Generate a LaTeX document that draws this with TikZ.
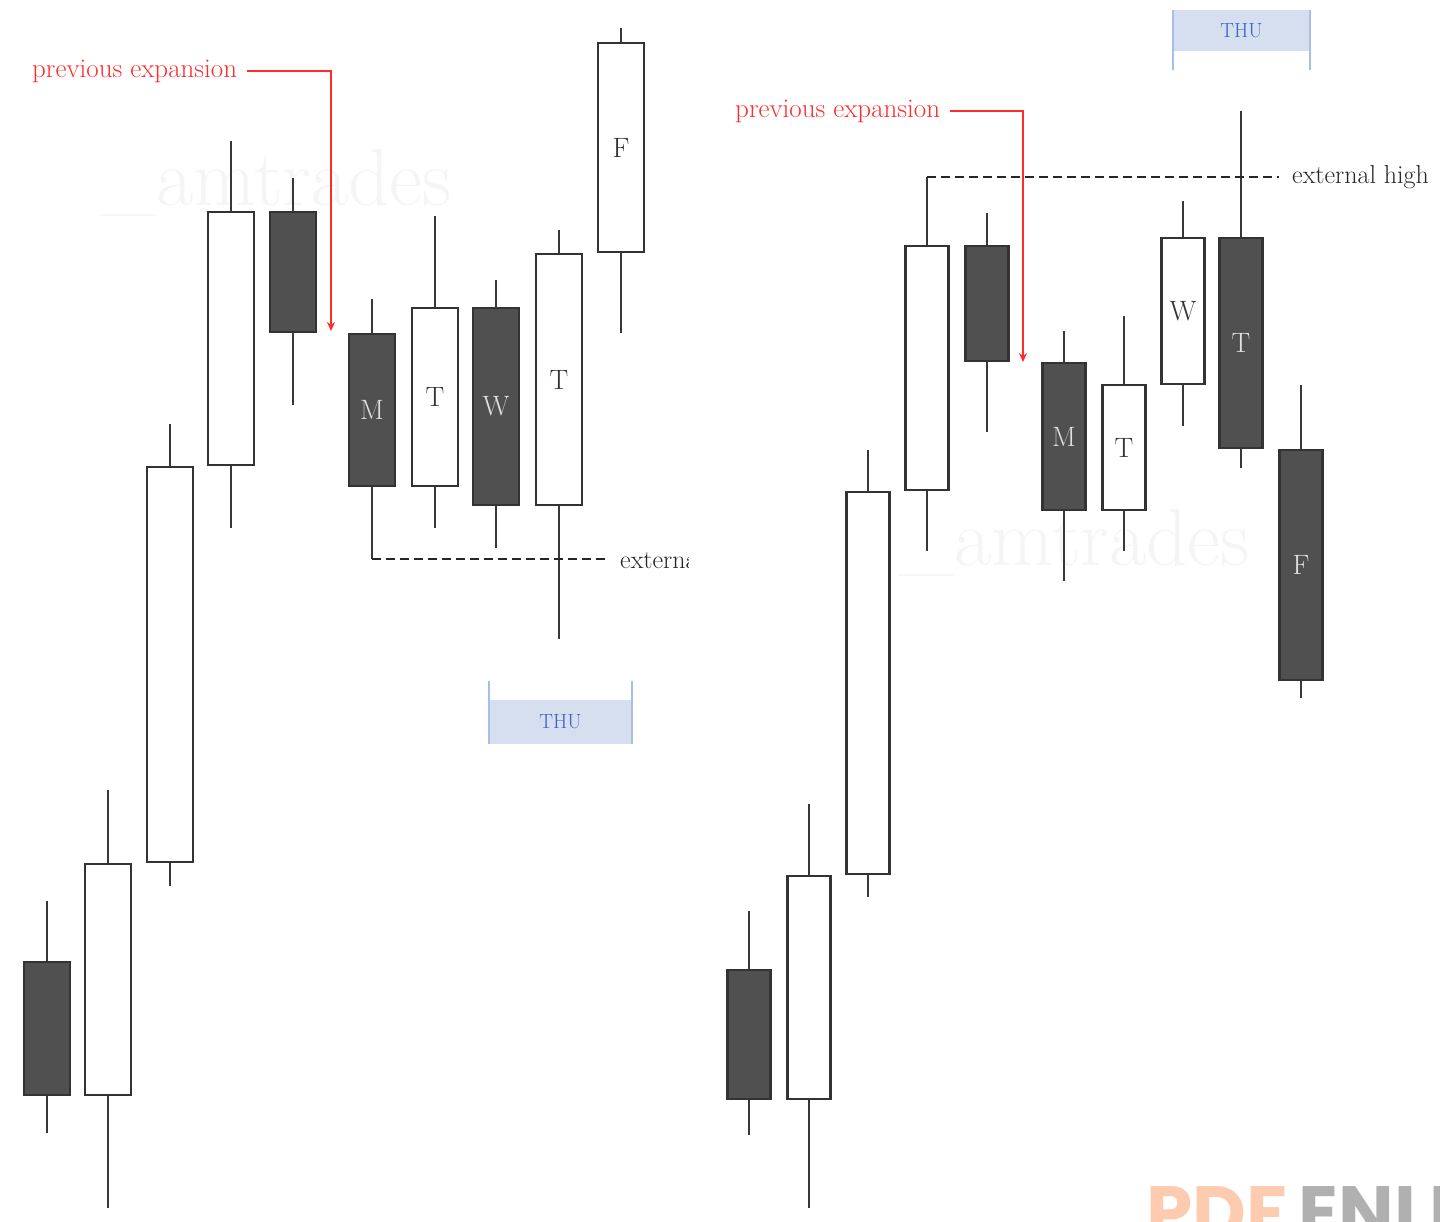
\documentclass[tikz,border=0pt]{standalone}
\usepackage{fontspec}
\newfontfamily\logofont{Poppins}
\usetikzlibrary{arrows.meta}
\definecolor{bodydark}{HTML}{505050}
\definecolor{expred}{HTML}{FF2B2B}
\definecolor{thublue}{HTML}{3D62C4}
\definecolor{thufill}{HTML}{D5DFF0}
\definecolor{thuline}{HTML}{A9BEE6}
\definecolor{logoorange}{HTML}{FDCBAF}
\definecolor{logogray}{HTML}{B0B0B0}

\begin{document}
\begin{tikzpicture}[x=1pt, y=-1pt,
  wick/.style={draw=black!78, line width=2.4pt},
  body/.style={draw=black!80, line width=2.4pt, inner sep=0pt, font=\fontsize{28}{30}\selectfont},
  expansion/.style={expred, line width=1.8pt, -{Stealth[length=9pt,width=8pt]}},
  exptext/.style={text=expred, font=\fontsize{27}{29}\selectfont, inner sep=0pt, anchor=west},
  extline/.style={black!85, line width=2pt, dash pattern=on 9pt off 5pt},
  exttext/.style={text=black!85, font=\fontsize{26}{28}\selectfont, inner sep=0pt, anchor=west},
  thubox/.style={fill=thufill, text=thublue, font=\fontsize{20.5}{22}\selectfont, inner sep=0pt},
  thuedge/.style={thuline, line width=2pt},
  watermark/.style={text=black!4, font=\fontsize{81}{83}\selectfont, inner sep=0pt, anchor=base west}]
  \useasboundingbox (0,0) rectangle (1440,1221);
  \clip (0,0) rectangle (1440,1221);
  \node[watermark] (wmL) at (100,205) {\_amtrades};
  \node[watermark] (wmR) at (898,565) {\_amtrades};
  % left week
  \foreach \n/\x/\wt/\bt/\bb/\wb/\fc/\tc/\l in {
      l1/47/901/961/1096/1133/bodydark/white/{},
      l2/108/790/863/1096/1208/white/black!80/{},
      l3/170/424/466/863/886/white/black!80/{},
      l4/231/141/211/466/528/white/black!80/{},
      l5/293/178/211/333/405/bodydark/white/{},
      l6/372/299/333/487/559/bodydark/white!88!black/M,
      l7/435/216/307/487/528/white/black!80/T,
      l8/496/280/307/506/548/bodydark/white!88!black/W,
      l9/559/230/253/506/639/white/black!80/T,
      l10/621/28/42/253/333/white/black!80/F} {
    \draw[wick] (\x,\wt) -- (\x,\wb);
    \node[body, fill=\fc, text=\tc, minimum width=46pt, minimum height={\bb-\bt-2}] (\n) at (\x,{(\bt+\bb)/2}) {\l};
  }
  % right week
  \foreach \n/\x/\wt/\bt/\bb/\wb/\fc/\tc/\l in {
      r1/749/911/969/1100/1135/bodydark/white/{},
      r2/809/804/875/1100/1208/white/black!80/{},
      r3/868/450/491/875/897/white/black!80/{},
      r4/927/177/245/491/551/white/black!80/{},
      r5/987/213/245/362/432/bodydark/white/{},
      r6/1064/331/362/511/581/bodydark/white!88!black/M,
      r7/1124/316/384/511/551/white/black!80/T,
      r8/1183/201/237/385/426/white/black!80/W,
      r9/1241/111/237/449/468/bodydark/white!88!black/T,
      r10/1301/385/449/681/698/bodydark/white!88!black/F} {
    \draw[wick] (\x,\wt) -- (\x,\wb);
    \node[body, fill=\fc, text=\tc, minimum width=43pt, minimum height={\bb-\bt-2}] (\n) at (\x,{(\bt+\bb)/2}) {\l};
  }
  \coordinate (lowL) at (372,559);
  \coordinate (highR) at (927,177);
  \begin{scope}
    \clip (0,0) rectangle (688,1221);
    \node[exttext] (extL) at (620,560) {external low};
  \end{scope}
  \node[exttext] (extR) at (1292,177) {external high};
  \draw[extline, shorten >=15pt] (lowL) -- (extL.west |- lowL);
  \draw[extline, shorten >=13pt] (highR) -- (extR.west |- highR);
  \node[thubox, minimum width=143pt, minimum height=44pt] (thuL) at (560.5,722) {THU};
  \draw[thuedge] (thuL.south west) -- ++(0,-63);
  \draw[thuedge] (thuL.south east) -- ++(0,-63);
  \node[thubox, minimum width=137pt, minimum height=41pt] (thuR) at (1241.5,30.5) {THU};
  \draw[thuedge] (thuR.north west) -- ++(0,60);
  \draw[thuedge] (thuR.north east) -- ++(0,60);
  \node[exptext] (prevL) at (32,71) {previous expansion};
  \node[exptext] (prevR) at (735,111) {previous expansion};
  \coordinate (arrL) at (331,331);
  \coordinate (arrR) at (1023,362);
  \draw[expansion] ([xshift=10pt]prevL.east |- 0,71) -| (arrL);
  \draw[expansion] ([xshift=10pt]prevR.east |- 0,111) -| (arrR);
  \node[anchor=base west, inner sep=0pt, font=\logofont\bfseries\fontsize{74}{74}\selectfont] (logo) at (1146,1238) {\textcolor{logoorange}{PDF}\hspace{12pt}\textcolor{logogray}{ENLE}};
\end{tikzpicture}
\end{document}
